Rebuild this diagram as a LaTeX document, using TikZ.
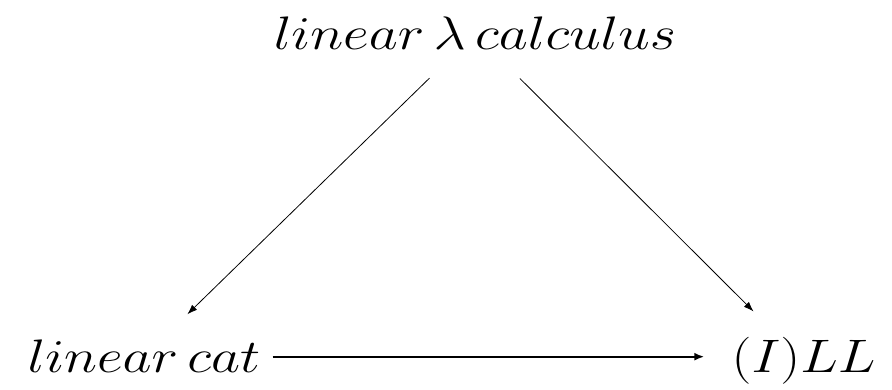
\RequirePackage{fix-cm}
\documentclass[tikz,border=0pt]{standalone}
\usepackage{amsmath,amssymb}
\usepackage{tikz}
\usetikzlibrary{arrows.meta}
\tikzset{every picture/.append style={font=\fontsize{47}{56}\selectfont}}
\tikzset{obj/.style={inner sep=0pt,anchor=base,xscale=1.2},
  thinarr/.style={-{Latex[length=10pt,width=7pt]},line width=0.8pt},
  thickarr/.style={-{Latex[length=10pt,width=8pt]},line width=2pt}}

\begin{document}
\begin{tikzpicture}[x=1pt,y=1pt]
    \useasboundingbox (0,0) rectangle (892,390);
    \node[obj] (lam) at (475,340) {$linear\,\lambda\,calculus$};
    \node[obj] (cat) at (144,17) {$linear\,cat$};
    \node[obj] (ll) at (803.5,17) {$(I)LL$};
    \draw[thinarr,shorten <=40pt,shorten >=37pt] (lam) -- (cat);
    \draw[thinarr,shorten <=40pt,shorten >=37pt] (lam) -- (ll);
    \draw[thickarr,shorten <=12pt,shorten >=27pt] (cat.east) -- (cat.east -| ll.west);
  \end{tikzpicture}
\end{document}
